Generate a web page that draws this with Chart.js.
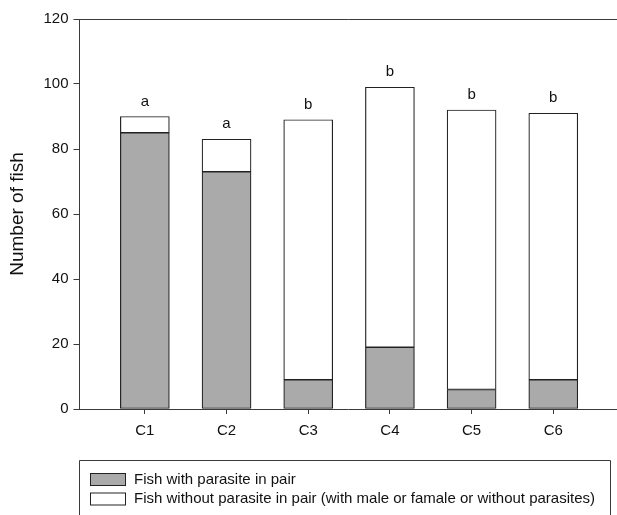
<!DOCTYPE html>
<html>
<head>
<meta charset="utf-8">
<script src="https://cdn.jsdelivr.net/npm/chart.js@4.4.1/dist/chart.umd.min.js"></script>
<style>
  html, body { margin: 0; padding: 0; background: #fff; overflow: hidden; }
  #wrap { width: 617px; height: 515px; }
</style>
</head>
<body>
<div id="wrap"><canvas id="chart" width="617" height="515"></canvas></div>
<script>
// Data
const groups = ["C1", "C2", "C3", "C4", "C5", "C6"];
const withParasite = [85, 73, 9, 19, 6, 9];
const withoutParasite = [5, 10, 80, 80, 86, 82];
const letters = ["a", "a", "b", "b", "b", "b"];
const yTicks = [0, 20, 40, 60, 80, 100, 120];
const seriesNames = [
  "Fish with parasite in pair",
  "Fish without parasite in pair (with male or famale or without parasites)"
];

const FONT = "Arial, 'Liberation Sans', sans-serif";
const LINE = "#3a3a3a";

// top frame line, significance letters, boxed legend
const extras = {
  id: "extras",
  afterDatasetsDraw(chart) {
    const { ctx, chartArea, scales } = chart;
    ctx.save();

    ctx.strokeStyle = LINE;
    ctx.lineWidth = 1;
    ctx.beginPath();
    ctx.moveTo(chartArea.left, chartArea.top + 0.5);
    ctx.lineTo(chartArea.right, chartArea.top + 0.5);
    ctx.stroke();

    ctx.fillStyle = "#111";
    ctx.font = "15px " + FONT;
    ctx.textAlign = "center";
    ctx.textBaseline = "middle";
    letters.forEach((l, i) => {
      const total = withParasite[i] + withoutParasite[i];
      const x = scales.x.getPixelForValue(i);
      const y = scales.y.getPixelForValue(total) - 15;
      ctx.fillText(l, x, y);
    });

    // legend box
    ctx.strokeStyle = LINE;
    ctx.beginPath();
    ctx.moveTo(79.5, 520);
    ctx.lineTo(79.5, 460.5);
    ctx.lineTo(610.5, 460.5);
    ctx.lineTo(610.5, 520);
    ctx.stroke();

    ctx.textAlign = "left";
    chart.data.datasets.forEach((ds, i) => {
      const top = 473 + i * 19.5;
      ctx.fillStyle = ds.backgroundColor;
      ctx.fillRect(90, top, 35, 12);
      ctx.strokeStyle = "#222";
      ctx.strokeRect(90.5, top + 0.5, 35, 12);
      ctx.fillStyle = "#111";
      ctx.fillText(ds.label, 134, top + 6.5);
    });
    ctx.restore();
  }
};

new Chart(document.getElementById("chart"), {
  type: "bar",
  data: {
    datasets: [
      {
        label: seriesNames[0],
        data: withParasite.map((v, i) => ({ x: i, y: v })),
        backgroundColor: "#aaaaaa",
        borderColor: "#222",
        borderWidth: 1.2,
        borderSkipped: false,
        barThickness: 49
      },
      {
        label: seriesNames[1],
        data: withoutParasite.map((v, i) => ({ x: i, y: v })),
        backgroundColor: "#ffffff",
        borderColor: "#222",
        borderWidth: 1.2,
        borderSkipped: false,
        barThickness: 49
      }
    ]
  },
  options: {
    responsive: false,
    animation: false,
    layout: { padding: { top: 19, right: 0, left: 0, bottom: 0 } },
    plugins: { legend: { display: false }, tooltip: { enabled: false } },
    scales: {
      x: {
        type: "linear",
        stacked: true,
        offset: false,
        min: -0.8,
        max: 5.78,
        afterBuildTicks(axis) { axis.ticks = groups.map((g, i) => ({ value: i })); },
        afterFit(axis) { axis.height = 106; },
        ticks: {
          callback: (v) => groups[v],
          color: "#111",
          font: { size: 15, family: FONT },
          padding: 8,
          maxRotation: 0,
          autoSkip: false
        },
        grid: { offset: false, drawOnChartArea: false, drawTicks: true, tickLength: 5, color: LINE },
        border: { display: true, color: LINE, width: 1 }
      },
      y: {
        stacked: true,
        min: 0,
        max: 120,
        afterBuildTicks(axis) { axis.ticks = yTicks.map(v => ({ value: v })); },
        afterFit(axis) { axis.width = 79.5; },
        ticks: {
          color: "#111",
          font: { size: 15, family: FONT },
          padding: 5
        },
        grid: { drawOnChartArea: false, drawTicks: true, tickLength: 6, color: LINE },
        border: { display: true, color: LINE, width: 1 },
        title: {
          display: true,
          text: "Number of fish",
          color: "#111",
          font: { size: 19, family: FONT },
          padding: { top: 6, bottom: 12 }
        }
      }
    }
  },
  plugins: [extras]
});
</script>
</body>
</html>
